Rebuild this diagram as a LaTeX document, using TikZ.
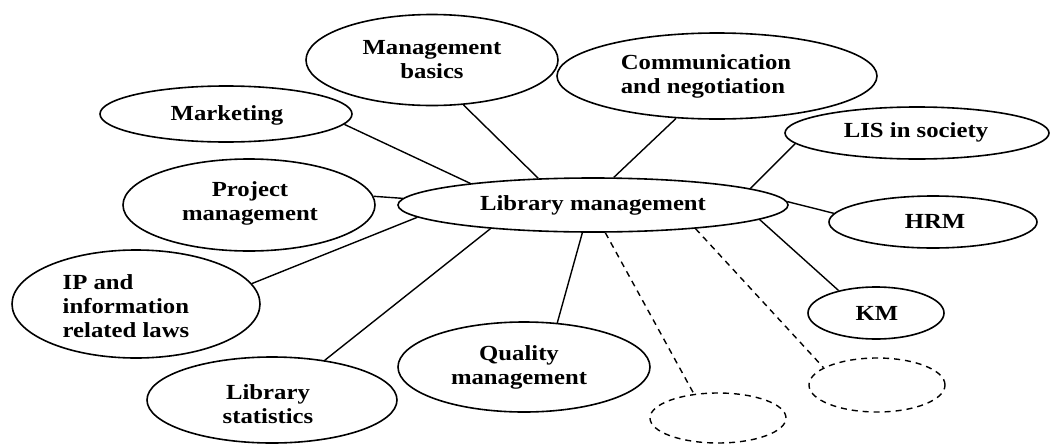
\documentclass[tikz,border=0pt]{standalone}
\usepackage{fontspec}
\setmainfont{Liberation Serif}[FakeStretch=1.15]
\usetikzlibrary{shapes.geometric}
\begin{document}
\begin{tikzpicture}[x=0.5pt,y=-0.5pt,
  bub/.style={draw, ellipse, line width=0.8pt, inner sep=0pt},
  blank/.style={bub, dash pattern=on 3pt off 2.5pt, line width=0.7pt},
  lbl/.style={font=\fontsize{10.75}{12}\selectfont\bfseries, align=center, inner sep=0pt},
  link/.style={line width=0.7pt},
  dlink/.style={link, dash pattern=on 3pt off 2.5pt}]
\useasboundingbox (0,0) rectangle (1050,445);

% topic ellipses
\node[bub, minimum width=195pt, minimum height=27pt] (lib)  at (593,205) {};
\node[bub, minimum width=126pt, minimum height=45.5pt] (mgmt) at (432,60) {};
\node[bub, minimum width=160pt, minimum height=43pt] (comm) at (717,76) {};
\node[bub, minimum width=126pt, minimum height=28pt] (mkt)  at (226,114) {};
\node[bub, minimum width=132pt, minimum height=26pt] (lis)  at (917,133) {};
\node[bub, minimum width=126pt, minimum height=46pt] (proj) at (249,205) {};
\node[bub, minimum width=104pt, minimum height=26pt] (hrm)  at (933,222) {};
\node[bub, minimum width=124pt, minimum height=54pt] (ip)   at (136,304) {};
\node[bub, minimum width=68pt,  minimum height=26pt] (km)   at (876,313) {};
\node[bub, minimum width=126pt, minimum height=45pt] (qual) at (524,367) {};
\node[bub, minimum width=125pt, minimum height=43pt] (stat) at (272,400) {};
\node[blank, minimum width=68pt, minimum height=25pt] (d1)  at (718,418) {};
\node[blank, minimum width=68pt, minimum height=27pt] (d2)  at (877,385) {};

% labels
\node[lbl] (libT)  at (593,205) {Library management};
\node[lbl] (mgmtT) at (432,60)  {Management\\basics};
\node[lbl, align=left] (commT) at (706,76) {Communication\\and negotiation};
\node[lbl] (mktT)  at (227,115) {Marketing};
\node[lbl] (lisT)  at (916,132) {LIS in society};
\node[lbl] (projT) at (250,203) {Project\\management};
\node[lbl] (hrmT)  at (935,221) {HRM};
\node[lbl, align=left] (ipT) at (126,306) {IP and\\information\\related laws};
\node[lbl] (kmT)   at (877,313) {KM};
\node[lbl] (qualT) at (519,367) {Quality\\management};
\node[lbl] (statT) at (268,404) {Library\\statistics};

% connectors
\draw[link] (mkt.-5)    -- (lib.170);
\draw[link] (mgmt.-55)  -- (lib.154);
\draw[link] (comm.-134) -- (lib.53);
\draw[link] (lis.-175)  -- (lib.6);
\draw[link] (lib.1)     -- (hrm.175);
\draw[link] (proj.4)    -- (lib.178);
\draw[link] (lib.-176)  -- (ip.10);
\draw[link] (lib.-167)  -- (stat.37);
\draw[link] (lib.-111)  -- (qual.53);
\draw[link] (lib.-5.5)  -- (km.149);
\draw[dlink] (lib.-66)  -- (d1.135);
\draw[dlink] (lib.-13)  -- (d2.162);
\end{tikzpicture}
\end{document}
